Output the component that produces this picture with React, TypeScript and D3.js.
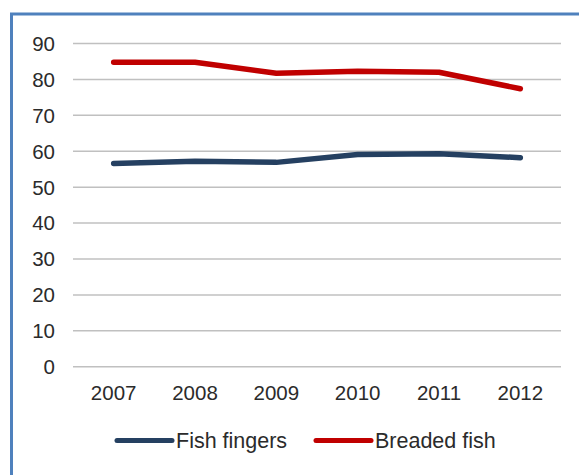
import { useEffect, useRef } from 'react';
import * as d3 from 'd3';

const years = ['2007', '2008', '2009', '2010', '2011', '2012'];
const fishFingers = [56.6, 57.2, 56.9, 59.1, 59.3, 58.2];
const breadedFish = [84.8, 84.8, 81.7, 82.3, 82.0, 77.4];
const yTicks = [0, 10, 20, 30, 40, 50, 60, 70, 80, 90];

const seriesNames = ['Fish fingers', 'Breaded fish'];
const seriesColors = ['#254061', '#c00000'];

export default function App() {
  const ref = useRef<SVGSVGElement | null>(null);

  useEffect(() => {
    if (!ref.current) return;

    const font = '"Liberation Sans", Arial, sans-serif';

    const svg = d3.select(ref.current);
    svg.selectAll('*').remove();

    // frame (only top and left edges visible in the crop)
    svg
      .append('rect')
      .attr('x', 11.5)
      .attr('y', 14)
      .attr('width', 700)
      .attr('height', 700)
      .attr('fill', 'white')
      .attr('stroke', '#4f81bd')
      .attr('stroke-width', 3);

    const x = d3.scaleBand().domain(years).range([73, 561]);
    const y = d3.scaleLinear().domain([0, 90]).range([366.7, 43.5]);

    // gridlines
    svg
      .append('g')
      .selectAll('line')
      .data(yTicks)
      .join('line')
      .attr('x1', 73)
      .attr('x2', 561)
      .attr('y1', (d) => y(d))
      .attr('y2', (d) => y(d))
      .attr('stroke', '#c0c0c0')
      .attr('stroke-width', 1.5);

    // y labels
    svg
      .append('g')
      .selectAll('text')
      .data(yTicks)
      .join('text')
      .attr('x', 55)
      .attr('y', (d) => y(d))
      .attr('dy', '0.36em')
      .attr('text-anchor', 'end')
      .attr('font-family', font)
      .attr('font-size', 20.5)
      .attr('fill', '#2b2b2b')
      .text((d) => d);

    // x labels
    svg
      .append('g')
      .selectAll('text')
      .data(years)
      .join('text')
      .attr('x', (d) => x(d)! + x.bandwidth() / 2)
      .attr('y', 400)
      .attr('text-anchor', 'middle')
      .attr('font-family', font)
      .attr('font-size', 20.5)
      .attr('fill', '#2b2b2b')
      .text((d) => d);

    const line = d3
      .line<number>()
      .x((_, i) => x(years[i])! + x.bandwidth() / 2)
      .y((d) => y(d));

    [fishFingers, breadedFish].forEach((vals, i) => {
      svg
        .append('path')
        .attr('d', line(vals))
        .attr('fill', 'none')
        .attr('stroke', seriesColors[i])
        .attr('stroke-width', 5.5)
        .attr('stroke-linecap', 'round')
        .attr('stroke-linejoin', 'round');
    });

    // legend
    const legendX = [117, 316];
    const legend = svg
      .append('g')
      .selectAll('g')
      .data(seriesNames)
      .join('g')
      .attr('transform', (_, i) => `translate(${legendX[i]}, 440.5)`);

    legend
      .append('line')
      .attr('x1', 0)
      .attr('x2', 55)
      .attr('stroke', (_, i) => seriesColors[i])
      .attr('stroke-width', 5)
      .attr('stroke-linecap', 'round');

    legend
      .append('text')
      .attr('x', 59)
      .attr('y', 7.5)
      .attr('font-family', font)
      .attr('font-size', 21.5)
      .attr('fill', '#2b2b2b')
      .text((d) => d);
  }, []);

  return (
    <svg
      ref={ref}
      width={579}
      height={475}
      style={{ position: 'absolute', left: 0, top: 0, display: 'block', background: 'white' }}
    />
  );
}
